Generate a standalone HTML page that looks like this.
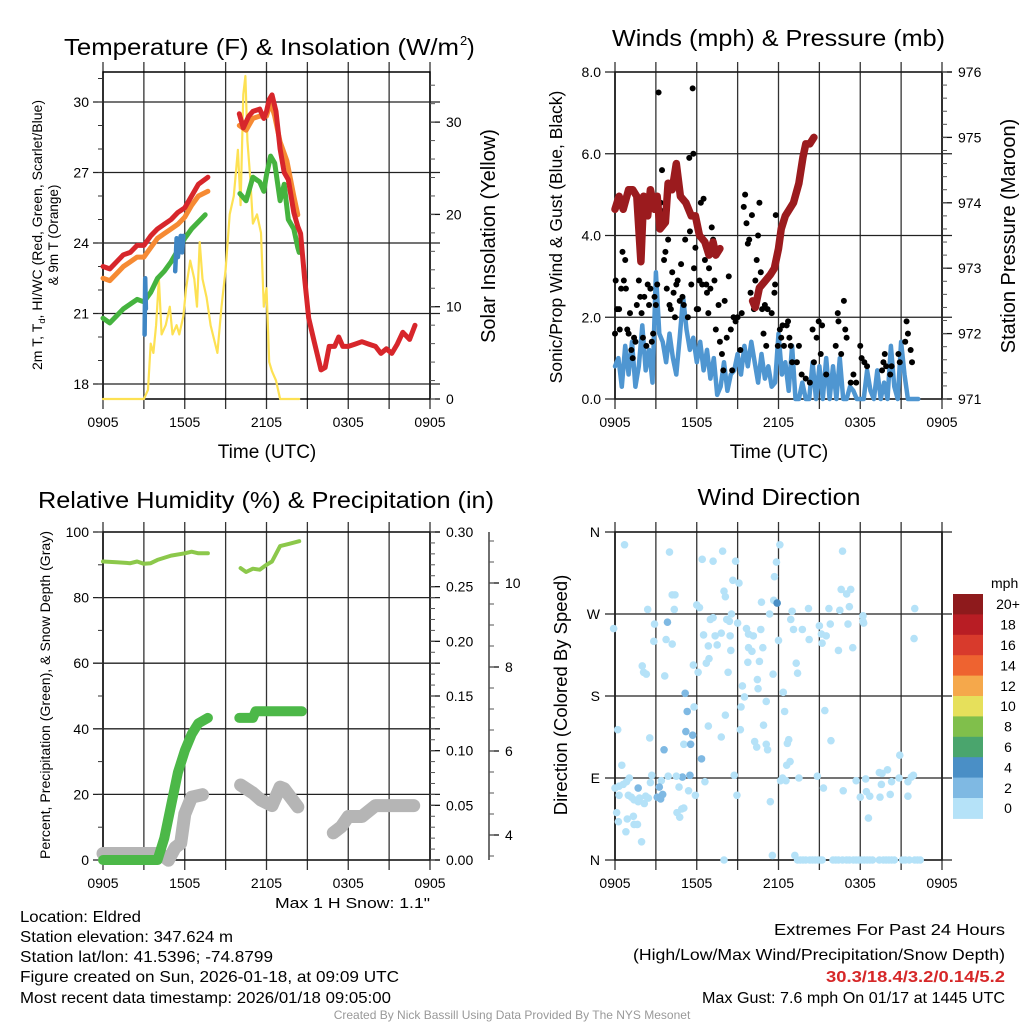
<!DOCTYPE html>
<html><head><meta charset="utf-8"><title>Eldred Mesonet Meteogram</title>
<style>
html,body{margin:0;padding:0;background:#fff;}
svg{display:block;font-family:"Liberation Sans",Arial,sans-serif;}
</style></head>
<body>
<svg id="fig" width="1024" height="1024" viewBox="0 0 1024 1024" xmlns="http://www.w3.org/2000/svg">
<rect x="0" y="0" width="1024" height="1024" fill="#fff"/>
<!-- titles -->
<text x="64" y="55" font-size="23" textLength="395" lengthAdjust="spacingAndGlyphs">Temperature (F) &amp; Insolation (W/m</text>
<text x="460" y="45" font-size="13">2</text>
<text x="467" y="55" font-size="23">)</text>
<text x="612" y="46" font-size="23" textLength="333" lengthAdjust="spacingAndGlyphs">Winds (mph) &amp; Pressure (mb)</text>
<text x="38" y="508" font-size="23" textLength="456" lengthAdjust="spacingAndGlyphs">Relative Humidity (%) &amp; Precipitation (in)</text>
<text x="779" y="505" font-size="23" text-anchor="middle" textLength="163" lengthAdjust="spacingAndGlyphs">Wind Direction</text>
<!-- axis titles -->
<text x="267" y="458" font-size="19" text-anchor="middle">Time (UTC)</text>
<text x="779" y="458" font-size="19" text-anchor="middle">Time (UTC)</text>
<text transform="translate(42,235) rotate(-90)" font-size="13.5" text-anchor="middle" textLength="270" lengthAdjust="spacingAndGlyphs">2m T, T<tspan font-size="9" dy="3">d</tspan><tspan dy="-3">, HI/WC (Red, Green, Scarlet/Blue)</tspan></text>
<text transform="translate(58,235) rotate(-90)" font-size="13.5" text-anchor="middle">&amp; 9m T (Orange)</text>
<text transform="translate(495,236) rotate(-90)" font-size="20" text-anchor="middle">Solar Insolation (Yellow)</text>
<text transform="translate(562,237) rotate(-90)" font-size="17.5" text-anchor="middle">Sonic/Prop Wind &amp; Gust (Blue, Black)</text>
<text transform="translate(1015,236) rotate(-90)" font-size="20" text-anchor="middle">Station Pressure (Maroon)</text>
<text transform="translate(50,695) rotate(-90)" font-size="13.5" text-anchor="middle" textLength="328" lengthAdjust="spacingAndGlyphs">Percent, Precipitation (Green), &amp; Snow Depth (Gray)</text>
<text transform="translate(567,695) rotate(-90)" font-size="18.5" text-anchor="middle">Direction (Colored By Speed)</text>
<text x="430" y="908" font-size="15" text-anchor="end" textLength="155" lengthAdjust="spacingAndGlyphs">Max 1 H Snow: 1.1"</text>
<!-- footer text -->
<g font-size="16">
<text x="20" y="922" textLength="121" lengthAdjust="spacingAndGlyphs">Location: Eldred</text>
<text x="20" y="942" textLength="213" lengthAdjust="spacingAndGlyphs">Station elevation: 347.624 m</text>
<text x="20" y="962" textLength="253" lengthAdjust="spacingAndGlyphs">Station lat/lon: 41.5396; -74.8799</text>
<text x="20" y="982" textLength="379" lengthAdjust="spacingAndGlyphs">Figure created on Sun, 2026-01-18, at 09:09 UTC</text>
<text x="20" y="1003" textLength="371" lengthAdjust="spacingAndGlyphs">Most recent data timestamp: 2026/01/18 09:05:00</text>
</g>
<g font-size="16">
<text x="774" y="935" textLength="231" lengthAdjust="spacingAndGlyphs">Extremes For Past 24 Hours</text>
<text x="633" y="960" textLength="372" lengthAdjust="spacingAndGlyphs">(High/Low/Max Wind/Precipitation/Snow Depth)</text>
<text x="826" y="982" textLength="179" lengthAdjust="spacingAndGlyphs" fill="#d62728" font-weight="bold">30.3/18.4/3.2/0.14/5.2</text>
<text x="702" y="1003" textLength="303" lengthAdjust="spacingAndGlyphs">Max Gust: 7.6 mph On 01/17 at 1445 UTC</text>
</g>
<text x="512" y="1019" font-size="12" fill="#999" text-anchor="middle">Created By Nick Bassill Using Data Provided By The NYS Mesonet</text>
<g id="layer"></g>
</svg>
<script>
// ---------- DATA ----------
const timeTickLabels = ["0905","1505","2105","0305","0905"];
// Temperature panel (hours since 0905)
const redHours1 = [0,0.5,1,1.5,2,2.5,3,3.5,4,4.5,5,5.5,6,6.5,7,7.7];
const redTemp1 = [23.0,22.9,23.2,23.5,23.6,23.9,23.9,24.3,24.6,24.8,25.0,25.3,25.5,26.0,26.5,26.8];
const redHours2 = [10.0,10.3,10.7,11,11.5,11.8,12,12.2,12.4,12.7,13,13.3,13.6,14,14.3,14.5,14.8,15.1,15.5,16.0,16.3,16.6,17.0,17.3,17.6,18,18.5,19,19.5,20,20.4,20.8,21.2,21.6,22,22.5,22.9];
const redTemp2 = [29.5,28.9,29.4,29.6,29.7,29.3,29.6,30.1,30.3,29.6,28.0,27.0,26.7,25.3,24.7,24.4,22.5,20.8,19.8,18.6,18.7,19.6,19.6,20.0,19.6,19.6,19.7,19.8,19.7,19.6,19.3,19.5,19.3,19.7,20.2,19.9,20.5];
const orangeHours1 = [0,0.5,1,1.5,2,2.5,3,3.5,4,4.5,5,5.5,6,6.5,7,7.7];
const orangeTemp1 = [22.5,22.4,22.7,23.0,23.2,23.4,23.4,23.8,24.2,24.4,24.6,24.8,25.1,25.6,26.0,26.2];
const orangeHours2 = [10.0,10.5,11,11.5,12,12.3,12.6,13,13.5,14,14.3];
const orangeTemp2 = [29.0,28.8,29.3,29.4,29.4,30.0,29.4,28.3,27.5,26.0,25.2];
const greenHours1 = [0,0.5,1,1.5,2,2.5,3,3.5,4,4.5,5,5.5,6,6.5,7,7.5];
const greenTemp1 = [20.8,20.6,20.9,21.2,21.4,21.6,21.5,21.9,22.5,22.8,23.2,23.7,24.2,24.6,24.9,25.2];
const greenHours2 = [10.05,10.5,11,11.5,11.8,12,12.3,12.6,13,13.3,13.6,14,14.3,14.4];
const greenTemp2 = [26.1,25.8,26.8,26.6,26.2,26.9,27.7,27.4,25.8,26.5,25.0,24.6,23.8,23.6];
const blueHours = [3.05,3.1,3.15,5.3,5.4,5.5,5.6,5.7,5.8,5.9];
const blueTemp = [20.1,22.5,21.2,22.8,24.2,23.4,23.9,24.3,23.6,24.3];
const solarHours = [0,3.0,3.3,3.5,3.7,3.9,4.1,4.3,4.6,4.9,5.1,5.4,5.6,5.9,6.1,6.4,6.7,6.9,7.1,7.3,7.6,7.9,8.4,8.7,9.0,9.3,9.6,9.9,10.1,10.3,10.45,10.6,10.8,11.0,11.3,11.6,11.8,12.0,12.2,12.4,12.7,13.0,14.4];
const solarValues = [0,0,1,6,5,8,13,7,8,10,7,8,7,9,12,15,13,10,17,13,11,8,5,10,14,20,22,27,21,33,35,28,24,19,20,18,10,12,4,3,2,0,0];
// Wind panel
const windStartHour = 0;
const windStepHours = 0.25;
const windSpeed = [0.8,1.0,0.3,1.3,0.6,1.4,0.3,0.8,1.8,0.7,1.2,0.4,
 3.1,1.6,1.4,0.9,1.6,1.0,0.6,1.5,2.5,1.7,1.2,1.5,
 0.9,1.4,0.7,1.2,0.5,1.0,0.1,0.3,0.9,0.2,0.6,0.7,
 1.1,0.6,1.3,0.8,1.4,0.9,0.4,1.1,0.5,0.8,0.3,0.4,
 1.6,0.6,0.9,0.2,1.3,0.0,0.0,0.4,0.0,0.0,0.9,0.0,
 0.8,0.0,1.0,0.0,0.8,0.0,1.0,0.0,0.0,0.3,0.2,0.0,
 0.0,0.0,0.7,0.2,0.0,0.7,0.0,0.4,0.0,1.3,0.3,0.0,
 1.4,0.6,0.0,0.0,0.0,0.0];
const gustHours = [0,0.05,0.15,0.3,0.35,0.45,0.55,0.65,0.75,0.8,0.9,1.0,1.1,1.2,1.3,1.4,1.5,1.6,1.75,1.85,1.95,2.05,2.15,2.3,2.4,2.5,2.6,2.7,2.8,2.9,3.0,3.1,3.2,3.35,3.45,3.55,3.6,3.7,3.8,3.9,4.0,4.1,4.2,4.3,4.4,4.5,4.6,4.75,4.85,4.95,5.05,5.15,5.25,5.35,5.45,5.5,5.6,5.7,5.75,5.8,5.9,6.0,6.1,6.2,6.3,6.4,6.5,6.6,6.7,6.75,6.85,6.9,7.0,7.1,7.2,7.3,7.4,7.6,7.7,7.85,7.95,8.05,8.2,8.35,8.5,8.6,8.7,8.85,9.0,9.2,9.3,9.45,9.55,9.65,9.75,9.85,9.95,10.05,10.2,10.3,10.4,10.5,10.6,10.7,10.8,10.9,11.0,11.1,11.2,11.5,11.7,11.75,11.8,11.95,12.1,12.2,12.3,12.4,12.6,12.7,12.8,12.9,13.0,13.35,13.5,13.7,14.0,14.3,14.5,14.6,14.8,14.95,15.1,15.2,15.5,16.2,16.35,16.4,16.6,16.8,16.9,17.0,17.3,17.5,17.7,18.0,18.1,18.3,18.5,19.6,19.7,19.8,19.9,20.2,20.3,20.8,20.9,21.3,21.4,21.5,21.7,21.8];
const gustSpeed = [1.6,2.9,2.2,2.2,1.7,2.7,3.6,2.9,3.4,2.7,1.7,1.6,2.1,1.2,1.0,1.5,1.4,2.3,2.9,2.5,2.1,1.5,2.5,1.3,2.8,2.3,2.7,1.4,1.6,2.5,2.3,2.8,7.5,4.8,5.6,4.6,3.4,3.6,2.7,3.9,2.3,2.2,3.1,2.6,2.0,2.8,2.9,2.4,3.3,2.5,2.3,3.9,4.8,2.0,5.9,4.1,2.8,7.6,6.0,3.2,3.7,2.2,2.2,2.9,4.8,2.8,4.9,3.4,2.8,2.6,2.1,3.2,2.7,4.2,3.9,2.9,1.7,2.3,1.4,1.1,0.7,2.4,1.5,3.0,1.7,0.7,2.0,1.9,2.0,1.2,2.1,4.7,5.0,4.3,3.8,3.9,2.6,4.5,2.2,2.9,3.4,4.0,4.8,3.1,2.2,1.6,2.3,1.3,2.2,2.1,2.6,2.8,4.5,1.3,1.7,1.5,1.8,1.3,1.8,1.9,1.5,1.3,0.9,0.9,1.3,0.6,0.5,0.4,1.7,0.9,1.5,1.9,1.1,1.8,0.6,1.3,2.1,1.9,1.1,2.4,1.7,1.5,0.4,0.6,0.4,1.3,1.0,0.9,0.8,0.7,0.9,1.1,0.8,0.6,0.8,1.1,0.9,1.4,1.9,1.6,1.2,0.9];
const pressureHours1 = [0,0.3,0.6,1,1.3,1.6,1.9,2.1,2.4,2.6,2.9,3.1,3.3,3.7,3.9,4.2,4.5,4.8,5.2,5.6,5.9,6.2,6.6,6.9,7.2,7.4,7.7];
const pressure1 = [973.9,974.1,973.9,974.2,974.2,974.1,973.1,974.1,973.8,974.2,973.9,974.1,973.6,973.7,974.3,974.2,974.6,974.1,974.0,973.8,973.8,973.5,973.4,973.2,973.4,973.2,973.3];
const pressureHours2 = [10.1,10.3,10.6,11,11.4,11.7,12,12.2,12.5,12.8,13.1,13.5,13.8,14.0,14.3,14.6];
const pressure2 = [972.5,972.4,972.7,972.8,972.9,973.0,973.3,973.6,973.8,973.9,974.0,974.3,974.7,974.9,974.9,975.0];
// Humidity panel
const rhHours1 = [0,1,2,2.5,3,3.5,4,5,6,6.5,7,7.7];
const rh1 = [91,90.8,90.5,91,90.3,90.5,91.5,92.8,93.5,94,93.5,93.5];
const rhHours2 = [10.1,10.5,11,11.5,12,12.4,13,13.6,14.4];
const rh2 = [89,87.8,88.8,88.5,90,91,95.7,96.3,97.2];
const precipHours1 = [0,4.0,4.5,5,5.5,6,6.5,7,7.7];
const precip1 = [0,0,0.02,0.05,0.08,0.10,0.115,0.125,0.13];
const precipHours2 = [10,11,11.2,14.6];
const precip2 = [0.13,0.13,0.136,0.136];
const snowHours1 = [0,4.2,4.8,5.3,5.7,6,6.5,7.3];
const snow1 = [3.56,3.56,3.4,3.7,3.8,4.5,4.9,4.96];
const snowHours2 = [10.1,11,11.6,12.4,13,13.3,14.3];
const snow2 = [5.19,5.0,4.83,4.7,5.14,5.1,4.67];
const snowHours3 = [16.9,17.5,18,19,20,22.8];
const snow3 = [4.05,4.2,4.44,4.44,4.7,4.7];
// Direction panel
const dirHours = [0.7,-0.1,4.0,6.4,7.2,7.9,8.85,8.65,9.1,12.1,11.85,11.7,16.7,16.6,17.3,17.0,4.2,4.4,8.0,8.1,2.4,4.35,6.0,6.2,10.75,11.65,11.9,13.0,14.2,15.7,16.5,17.2,18.2,18.25,22.0,21.95,2.9,3.85,2.85,3.75,4.2,7.0,7.2,8.2,8.4,8.55,9.0,9.65,9.8,10.15,10.7,11.35,12.0,12.9,13.1,13.75,14.25,15.0,15.15,15.5,15.2,15.8,16.4,17.1,17.45,18.2,6.5,7.35,7.8,7.5,6.85,6.9,6.7,5.75,6.1,8.45,8.5,8.3,9.8,10.05,9.75,10.6,10.85,11.6,13.3,13.4,2.0,2.1,2.3,3.65,10.45,10.5,9.35,9.5,11.1,12.35,12.45,15.4,5.15,5.3,5.8,8.1,9.25,5.2,5.7,5.05,5.55,6.85,7.8,9.2,10.9,10.25,10.4,11.1,11.2,12.65,12.75,12.6,12.85,15.85,0.2,2.55,3.6,6.35,0.5,20.9,20.0,19.6,19.4,20.85,21.75,21.9,21.5,19.55,20.3,20.2,19.45,21.5,18.6,18.4,17.7,18.0,18.7,18.45,16.75,15.3,14.85,13.5,12.3,12.15,12.55,11.4,8.95,8.75,6.6,5.9,5.5,4.95,5.4,4.7,4.5,3.9,3.4,3.25,3.5,3.1,3.35,2.7,2.6,2.25,2.45,2.15,1.7,1.05,0.85,0.6,0.3,0,0.3,0.98,1.2,1.4,1.8,1.7,0.12,0.25,0.9,1.35,1.4,1.65,0.8,1.95,4.55,4.75,4.9,5.05,8.0,11.55,13.2,13.4,13.6,13.8,14.0,14.3,14.5,14.7,14.9,15.1,15.2,16.0,16.2,16.4,16.7,17.0,17.2,17.5,17.7,17.9,18.1,18.3,18.5,18.7,18.9,19.4,19.7,19.9,20.1,20.3,20.5,21.1,21.3,21.6,22.0,22.2,22.4,22.6,22.8];
const dirDegrees = [346,254,338,330,328,339,328,307,304,346,327,311,339,297,297,292,291,291,295,289,275,275,280,277,283,285,282,273,276,276,274,278,268,260,276,243,259,261,240,242,237,264,266,264,262,270,260,254,248,246,253,270,241,264,253,253,242,257,248,246,238,259,230,259,233,262,247,246,249,236,235,221,216,214,206,246,230,206,233,229,217,218,233,204,216,205,213,206,204,202,198,188,191,179,174,184,163,164,183,163,168,159,168,141,137,127,127,147,135,143,148,130,124,127,121,128,132,104,108,131,143,134,121,111,104,115,99,95,96,90,91,93,86,83,86,72,69,70,46,89,87,69,70,75,76,79,92,90,90,87,87,64,71,93,86,71,93,91,76,80,92,92,87,80,72,69,67,93,85,70,68,62,79,90,86,83,81,79,71,71,69,66,68,64,52,42,45,48,39,39,31,20,52,47,56,57,0,5,5,0,0,0,0,0,0,0,0,0,0,0,0,0,0,0,0,0,0,0,0,0,0,0,0,0,0,0,0,0,0,0,0,0,0,0,0];
const dirSpeedMph = [1,1,1,1,1,1,1,1,1,1,1,1,1,1,1,1,1,1,1,1,1,1,1,1,1,1,4.5,1,1,1,1,1,1,1,1,1,1,3,1,1,1,1,1,1,1,1,1,1,1,1,1,1,1,1,1,1,1,1,1,1,1,1,1,1,1,1,1,1,1,1,1,1,1,1,1,1,1,1,1,1,1,1,1,1,1,1,1,1,1,1,1,1,1,1,1,1,1,1,3.5,3,1,1,1,3,3,1,3,1,1,1,1,1,1,1,1,1,1,1,1,1,1,1,3,3,1,1,1,1,1,1,1,1,1,1,1,1,1,1,1,1,1,1,1,1,1,1,1,1,1,1,1,1,1,1,1,1,3,3.5,1,1,1,1,1,3.5,3.5,3.5,3.5,1,1,1,1,1,3,1,1,1,1,1,1,1,1,1,1,1,1,1,1,1,1,1,1,1,1,1,1,1,1,1,1,1,1,1,1,1,1,1,1,1,1,1,1,1,1,1,1,1,1,1,1,1,1,1,1,1,1,1,1,1,1,1,1,1,1,1];
const colorbarLabels = ["20+","18","16","14","12","10","8","6","4","2","0"];
const colorbarColors = ["#8e1a1c","#b81d24","#d83a2c","#ee6330","#f5a84b","#e6e05b","#80bf4b","#4aa56d","#4a8fc6","#7fb9e3","#b5e2f8"];

// ---------- helpers ----------
const NS = "http://www.w3.org/2000/svg";
const layer = document.getElementById("layer");
function mk(tag, attrs, parent){
  const el = document.createElementNS(NS, tag);
  for (const k in attrs) el.setAttribute(k, attrs[k]);
  (parent||layer).appendChild(el);
  return el;
}
function group(){ return mk("g", {}); }
function pathFrom(xs, ys, xf, yf){
  let d = "";
  const n = Math.min(xs.length, ys.length);
  for (let i=0;i<n;i++) d += (i?"L":"M") + xf(xs[i]).toFixed(1) + "," + yf(ys[i]).toFixed(1);
  return d;
}
function colorForSpeed(v){
  if (typeof v !== "number" || isNaN(v)) v = 1;
  const idx = Math.max(0, Math.min(10, Math.floor(v/2)));
  return colorbarColors[10-idx];
}

// panel geometry
const P = {
  p1:{x0:103,x1:430,y0:72,y1:399},
  p2:{x0:615,x1:942,y0:72,y1:399},
  p3:{x0:103,x1:430,y0:532,y1:860},
  p4:{x0:615,x1:942,y0:532,y1:860}
};
function xScale(p){ return h => p.x0 + h*(p.x1-p.x0)/24; }
function linY(p, lo, hi){ return v => p.y1 - (v-lo)*(p.y1-p.y0)/(hi-lo); }

function drawFrame(p, name, extendTop){
  const g = group();
  
  
  const xs = xScale(p);
  for (let k=0;k<=8;k++){
    const x = xs(k*3);
    const ln = mk("line",{x1:x,x2:x,y1:p.y0-extendTop,y2:p.y1+10,stroke:"#333","stroke-width":1.3},g);
    
    
  }
  for (let k=0;k<5;k++){
    const t = mk("text",{x:xs(k*6),y:p.y1+28,"font-size":14,"text-anchor":"middle"},g);
    t.textContent = timeTickLabels[k];
    
    
  }
  const bx = mk("rect",{x:p.x0,y:p.y0,width:p.x1-p.x0,height:p.y1-p.y0,fill:"none",stroke:"#000","stroke-width":1.5},g);
  
  
  return g;
}
function leftAxis(p, name, ticks, labels, yf, minorStep, lo, hi, gridlines){
  const g = group();
  
  
  ticks.forEach((v,i)=>{
    const y = yf(v);
    const ln = mk("line",{x1:p.x0-10,x2:gridlines?p.x1+10:p.x0,y1:y,y2:y,stroke:"#222","stroke-width":1.3},g);
    
    
    const t = mk("text",{x:p.x0-14,y:y+5,"font-size":14,"text-anchor":"end"},g);
    t.textContent = labels[i];
    
    
  });
  if (minorStep){
    for (let v=lo; v<=hi+1e-9; v+=minorStep){
      const y = yf(v);
      const m = mk("line",{x1:p.x0-5,x2:p.x0,y1:y,y2:y,stroke:"#333","stroke-width":1},g);
      
      
    }
  }
}
function rightAxis(xAxis, name, ticks, labels, yf, minorStep, lo, hi, len){
  const g = group();
  
  
  ticks.forEach((v,i)=>{
    const y = yf(v);
    const ln = mk("line",{x1:xAxis,x2:xAxis+len,y1:y,y2:y,stroke:"#111","stroke-width":1.3},g);
    
    
    const t = mk("text",{x:xAxis+len+6,y:y+5,"font-size":14},g);
    t.textContent = labels[i];
    
    
  });
  for (let v=lo; v<=hi+1e-9; v+=minorStep){
    const y = yf(v);
    const m = mk("line",{x1:xAxis,x2:xAxis+len/2,y1:y,y2:y,stroke:"#555","stroke-width":1},g);
    
    
  }
}
function line(xs, ys, xf, yf, color, w, name){
  const el = mk("path",{d:pathFrom(xs,ys,xf,yf),fill:"none",stroke:color,"stroke-width":w,"stroke-linecap":"round","stroke-linejoin":"round"});
  
  
  return el;
}

// ---------- Panel 1: Temperature ----------
(function(){
  const p = P.p1, xf = xScale(p);
  const yT = v => 102 + (30-v)*(384-102)/12;
  const yS = linY(p, 0, 35.43);
  drawFrame(p, "temperature", 10);
  leftAxis(p, "temperature", [18,21,24,27,30], ["18","21","24","27","30"], yT, 1, 18, 31, true);
  rightAxis(p.x1, "insolation", [0,10,20,30], ["0","10","20","30"], yS, 2, 0, 34, 10);
  line(solarHours, solarValues, xf, yS, "#fde153", 2.2, "solar-insolation-line");
  line(greenHours1, greenTemp1, xf, yT, "#45b33f", 5, "dewpoint-line");
  line(greenHours2, greenTemp2, xf, yT, "#45b33f", 5, "dewpoint-line");
  line(orangeHours1, orangeTemp1, xf, yT, "#f68a33", 5, "temp-9m-line");
  line(orangeHours2, orangeTemp2, xf, yT, "#f68a33", 5, "temp-9m-line");
  line(redHours1, redTemp1, xf, yT, "#d7262b", 5, "temp-2m-line");
  line(redHours2, redTemp2, xf, yT, "#d7262b", 5, "temp-2m-line");
  line(blueHours.slice(0,3), blueTemp.slice(0,3), xf, yT, "#3f86c4", 4.5, "wind-chill-line");
  line(blueHours.slice(3), blueTemp.slice(3), xf, yT, "#3f86c4", 4.5, "wind-chill-line");
})();

// ---------- Panel 2: Winds ----------
(function(){
  const p = P.p2, xf = xScale(p);
  const yW = linY(p, 0, 8);
  const yP = linY(p, 971, 976);
  drawFrame(p, "wind", 10);
  leftAxis(p, "wind", [0,2,4,6,8], ["0.0","2.0","4.0","6.0","8.0"], yW, 0, 0, 8, true);
  rightAxis(p.x1, "pressure", [971,972,973,974,975,976], ["971","972","973","974","975","976"], yP, 0.2, 971, 976, 10);
  const hrs = windSpeed.map((v,i)=>windStartHour + i*windStepHours);
  line(hrs, windSpeed, xf, yW, "#4f96d1", 4.5, "wind-speed-line");
  const dg = group();
  
  
  gustHours.forEach((h,i)=>{
    if (typeof gustSpeed[i] !== "number") return;
    const c = mk("circle",{cx:xf(h),cy:yW(gustSpeed[i]),r:3,fill:"#000"},dg);
    
    
  });
  line(pressureHours1, pressure1, xf, yP, "#9b1b1e", 7.5, "pressure-line");
  line(pressureHours2, pressure2, xf, yP, "#9b1b1e", 7.5, "pressure-line");
})();

// ---------- Panel 3: Humidity ----------
(function(){
  const p = P.p3, xf = xScale(p);
  const yR = linY(p, 0, 100);
  const yPr = linY(p, 0, 0.30);
  const ySn = v => 835 - (v-4)*42;
  drawFrame(p, "humidity", 10);
  leftAxis(p, "humidity", [0,20,40,60,80,100], ["0","20","40","60","80","100"], yR, 10, 0, 100, true);
  rightAxis(p.x1, "precipitation", [0,0.05,0.10,0.15,0.20,0.25,0.30], ["0.00","0.05","0.10","0.15","0.20","0.25","0.30"], yPr, 0.01, 0, 0.30, 10);
  const sx = 489;
  const ax = mk("line",{x1:sx,x2:sx,y1:532,y2:860,stroke:"#222","stroke-width":1.3});
  
  
  rightAxis(sx, "snow-depth", [4,6,8,10], ["4","6","8","10"], ySn, 0.5, 3.5, 11, 10);
  line(snowHours1, snow1, xf, ySn, "#b5b5b5", 13, "snow-depth-line");
  line(snowHours2, snow2, xf, ySn, "#b5b5b5", 13, "snow-depth-line");
  line(snowHours3, snow3, xf, ySn, "#b5b5b5", 13, "snow-depth-line");
  line(precipHours1, precip1, xf, yPr, "#4cb848", 10, "precipitation-line");
  line(precipHours2, precip2, xf, yPr, "#4cb848", 10, "precipitation-line");
  line(rhHours1, rh1, xf, yR, "#8cc84b", 4, "relative-humidity-line");
  line(rhHours2, rh2, xf, yR, "#8cc84b", 4, "relative-humidity-line");
})();

// ---------- Panel 4: Wind direction ----------
(function(){
  const p = P.p4, xf = xScale(p);
  const yD = linY(p, 0, 360);
  drawFrame(p, "direction", 10);
  const g = group();
  
  
  const dirTicks = [0,90,180,270,360], dirLabels = ["N","E","S","W","N"];
  dirTicks.forEach((v,i)=>{
    const y = yD(v);
    const ln = mk("line",{x1:p.x0-10,x2:p.x1+10,y1:y,y2:y,stroke:"#222","stroke-width":1.3},g);
    
    
    const t = mk("text",{x:p.x0-15,y:y+5,"font-size":14,"text-anchor":"end"},g);
    t.textContent = dirLabels[i];
    
    
  });
  const dg = group();
  
  
  dirHours.forEach((h,i)=>{
    if (typeof dirDegrees[i] !== "number") return;
    const c = mk("circle",{cx:xf(h),cy:yD(dirDegrees[i]),r:3.8,fill:colorForSpeed(dirSpeedMph[i])},dg);
    
    
  });
  // colorbar
  const cb = group();
  
  
  const t0 = mk("text",{x:991,y:588,"font-size":14},cb);
  t0.textContent = "mph";
  
  
  const top = 594, bh = 20.4;
  colorbarLabels.forEach((lab,i)=>{
    const r = mk("rect",{x:953,y:top+i*bh,width:30,height:bh+0.5,fill:colorbarColors[i]},cb);
    
    
    const t = mk("text",{x:1008,y:top+i*bh+bh/2+5,"font-size":14,"text-anchor":"middle"},cb);
    t.textContent = lab;
    
    
  });
})();
</script>
</body></html>
